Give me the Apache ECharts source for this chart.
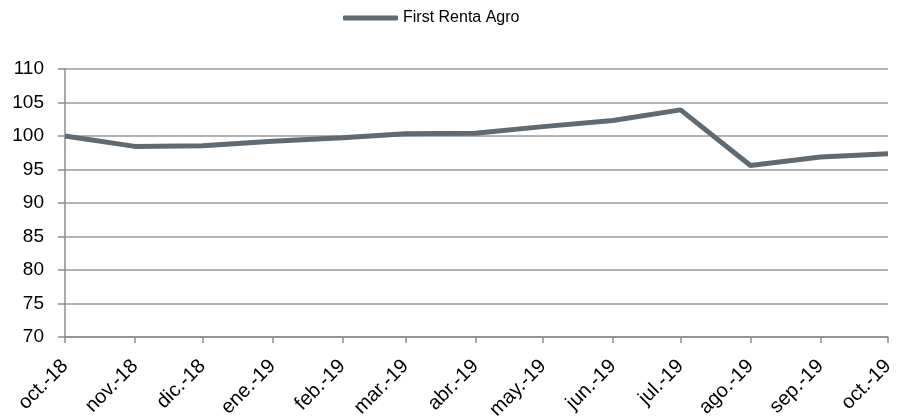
<!DOCTYPE html>
<html>
<head>
<meta charset="utf-8">
<script src="https://cdn.jsdelivr.net/npm/echarts@6/dist/echarts.min.js"></script>
<style>
html,body{margin:0;padding:0;background:#fff;}
#chart{width:899px;height:417px;}
</style>
</head>
<body>
<div id="chart"></div>
<script>
var seriesName = 'First Renta Agro';
var months = ['2018-10-01','2018-11-01','2018-12-01','2019-01-01','2019-02-01','2019-03-01','2019-04-01',
	'2019-05-01','2019-06-01','2019-07-01','2019-08-01','2019-09-01','2019-10-01'];
var tickLabels = ['oct.-18','nov.-18','dic.-18','ene.-19','feb.-19','mar.-19','abr.-19',
	'may.-19','jun.-19','jul.-19','ago.-19','sep.-19','oct.-19'];
var values = [100, 98.45, 98.55, 99.2, 99.75, 100.35, 100.4, 101.4, 102.3, 103.9, 95.6, 96.85, 97.35];

// days since first month, so spacing follows month lengths
var t0 = Date.parse(months[0]);
var dayOf = months.map(function(m){ return Math.round((Date.parse(m) - t0) / 86400000); });
var labelOf = {};
dayOf.forEach(function(d, i){ labelOf[d] = tickLabels[i]; });

function setChart(){
	var myChart = echarts.init(document.getElementById('chart'));
	var option = {
		animation: false,
		legend: {
			top: 5,
			left: 338,
			itemWidth: 55,
			itemHeight: 5,
			itemGap: 4,
			textStyle: {fontFamily: 'Liberation Sans, Arial, sans-serif', fontSize: 16, color: '#000'},
			data: [{name: seriesName, icon: 'roundRect'}]
		},
		grid: {left: 65, right: 11, top: 69, bottom: 80, containLabel: false, outerBoundsMode: 'none'},
		xAxis: {
			type: 'value',
			min: 0,
			max: dayOf[dayOf.length - 1],
			axisLine: {lineStyle: {color: '#8c8c8c', width: 1.5}},
			axisTick: {show: true, customValues: dayOf, length: 6, lineStyle: {color: '#8c8c8c', width: 1.5}},
			splitLine: {show: false},
			axisLabel: {
				customValues: dayOf,
				rotate: 45,
				margin: 26,
				fontFamily: 'Liberation Sans, Arial, sans-serif',
				fontSize: 20,
				color: '#000',
				formatter: function(v){ return labelOf[v] || ''; }
			}
		},
		yAxis: {
			type: 'value',
			min: 70,
			max: 110,
			interval: 5,
			axisLine: {show: true, lineStyle: {color: '#8c8c8c', width: 1.5}},
			axisTick: {show: true, length: 7, lineStyle: {color: '#8c8c8c', width: 1.5}},
			splitLine: {lineStyle: {color: '#9a9a9a', width: 1.5}},
			axisLabel: {
				margin: 21,
				fontFamily: 'Liberation Sans, Arial, sans-serif',
				fontSize: 19,
				color: '#000'
			}
		},
		series: [{
			name: seriesName,
			type: 'line',
			symbol: 'none',
			lineStyle: {color: '#5f6a72', width: 5},
			itemStyle: {color: '#5f6a72'},
			data: dayOf.map(function(d, i){ return [d, values[i]]; })
		}]
	};
	myChart.setOption(option);
}
setChart();
</script>
</body>
</html>
